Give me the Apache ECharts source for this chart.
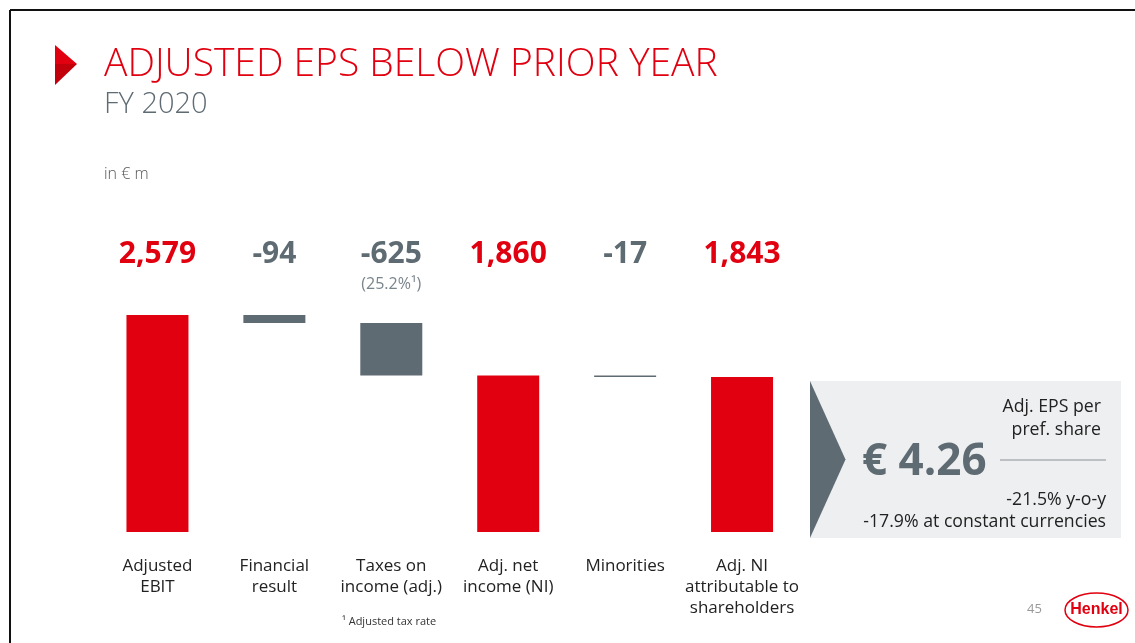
<!DOCTYPE html>
<html>
<head>
<meta charset="utf-8">
<script src="https://cdn.jsdelivr.net/npm/echarts@6/dist/echarts.min.js"></script>
<style>
html,body{margin:0;padding:0;background:#fff;}
#chart{width:1135px;height:643px;}
</style>
</head>
<body>
<div id="chart"></div>
<script>
// ---- data ----
const categories = ['Adjusted\nEBIT', 'Financial\nresult', 'Taxes on\nincome (adj.)', 'Adj. net\nincome (NI)', 'Minorities', 'Adj. NI\nattributable to\nshareholders'];
const values = [2579, -94, -625, 1860, -17, 1843];
const isTotal = [true, false, false, true, false, true];
const valueLabels = ['2,579', '-94', '-625', '1,860', '-17', '1,843'];
const subLabels = ['', '', '(25.2%\u00B9)', '', '', ''];
const yTicks = [0, 3000];

// ---- styles ----
const RED = '#e1000f';
const GREY = '#5f6b73';
const FONT = '"Open Sans", "Noto Sans", sans-serif';

// waterfall computation
const base = [];
const heights = [];
let running = 0;
values.forEach((v, i) => {
  if (isTotal[i]) { base.push(0); heights.push(v); running = v; }
  else { running += v; base.push(running); heights.push(-v); }
});

const chart = echarts.init(document.getElementById('chart'), null, {renderer: 'canvas'});
chart.setOption({
  animation: false,
  backgroundColor: '#fff',
  grid: {left: 99, right: 334.5, top: 279.6, bottom: 111},
  xAxis: [{
    type: 'category', data: categories, position: 'bottom',
    axisLine: {show: false}, axisTick: {show: false},
    axisLabel: {interval: 0, margin: 24, fontFamily: FONT, fontSize: 17, color: '#222', lineHeight: 21}
  }, {
    type: 'category', data: categories, position: 'top',
    axisLine: {show: false}, axisTick: {show: false},
    axisLabel: {
      interval: 0, margin: -16.4,
      formatter: (val, i) => (isTotal[i] ? '{r|' : '{g|') + valueLabels[i] + '}\n{s|' + (subLabels[i] || ' ') + '}',
      rich: {
        r: {fontFamily: FONT, fontSize: 30, fontWeight: 'bold', color: RED, lineHeight: 36},
        g: {fontFamily: FONT, fontSize: 30, fontWeight: 'bold', color: GREY, lineHeight: 36},
        s: {fontFamily: FONT, fontSize: 16, color: '#7a848b', lineHeight: 24}
      }
    }
  }],
  yAxis: {type: 'value', min: yTicks[0], max: yTicks[1], show: false},
  series: [{
    type: 'bar', stack: 'w', data: base, barWidth: 62,
    itemStyle: {color: 'transparent'}, silent: true
  }, {
    type: 'bar', stack: 'w', barWidth: 62,
    data: heights.map((h, i) => ({value: h, itemStyle: {color: isTotal[i] ? RED : GREY}}))
  }],
  graphic: [
    // slide frame
    {type: 'line', shape: {x1: 10, y1: 10, x2: 1135, y2: 10}, style: {stroke: '#111', lineWidth: 2}},
    {type: 'line', shape: {x1: 10, y1: 10, x2: 10, y2: 643}, style: {stroke: '#111', lineWidth: 2}},
    // red arrow
    {type: 'polygon', shape: {points: [[55, 45], [77, 64], [55, 64]]}, style: {fill: RED}},
    {type: 'polygon', shape: {points: [[55, 64], [77, 64], [55, 85]]}, style: {fill: '#c2000b'}},
    // title
    {type: 'text', left: 104, top: 45, style: {text: 'ADJUSTED EPS BELOW PRIOR YEAR', fontFamily: FONT, fontWeight: 300, fontSize: 39, fill: RED}},
    {type: 'text', left: 104, top: 90, style: {text: 'FY 2020', fontFamily: FONT, fontWeight: 300, fontSize: 29, fill: GREY}},
    {type: 'text', left: 104, top: 166, style: {text: 'in \u20AC m', fontFamily: FONT, fontWeight: 300, fontSize: 16, fill: '#555'}},
    // footnote
    {type: 'text', left: 342, top: 616, style: {text: '\u00B9 Adjusted tax rate', fontFamily: FONT, fontSize: 11, fill: '#333'}},
    // EPS box
    {type: 'rect', shape: {x: 810, y: 381, width: 311, height: 157}, style: {fill: '#eeeff0'}},
    {type: 'polygon', shape: {points: [[810, 381], [845.5, 459.5], [810, 538]]}, style: {fill: GREY}},
    {type: 'text', x: 862, y: 462, style: {text: '\u20AC 4.26', fontFamily: FONT, fontWeight: 'bold', fontSize: 44, fill: GREY, verticalAlign: 'middle'}},
    {type: 'line', shape: {x1: 1000, y1: 460, x2: 1106, y2: 460}, style: {stroke: '#8a9197', lineWidth: 1}},
    {type: 'text', x: 1101, y: 407, style: {text: 'Adj. EPS per', fontFamily: FONT, fontSize: 17.7, fill: '#222', align: 'right', verticalAlign: 'middle'}},
    {type: 'text', x: 1101, y: 430, style: {text: 'pref. share', fontFamily: FONT, fontSize: 17.7, fill: '#222', align: 'right', verticalAlign: 'middle'}},
    {type: 'text', x: 1106, y: 500, style: {text: '-21.5% y-o-y', fontFamily: FONT, fontSize: 17.7, fill: '#222', align: 'right', verticalAlign: 'middle'}},
    {type: 'text', x: 1106, y: 522, style: {text: '-17.9% at constant currencies', fontFamily: FONT, fontSize: 17.7, fill: '#222', align: 'right', verticalAlign: 'middle'}},
    // page number & logo
    {type: 'text', x: 1027, y: 609, style: {text: '45', fontFamily: FONT, fontSize: 13, fill: '#999', verticalAlign: 'middle'}},
    {type: 'ellipse', shape: {cx: 1096.5, cy: 610, rx: 31.5, ry: 17}, style: {fill: '#fff', stroke: RED, lineWidth: 1.5}},
    {type: 'text', x: 1096.5, y: 610, style: {text: 'Henkel', fontFamily: '"Liberation Sans", Arial, sans-serif', fontWeight: 'bold', fontSize: 16, fill: RED, align: 'center', verticalAlign: 'middle'}}
  ]
});
</script>
</body>
</html>
